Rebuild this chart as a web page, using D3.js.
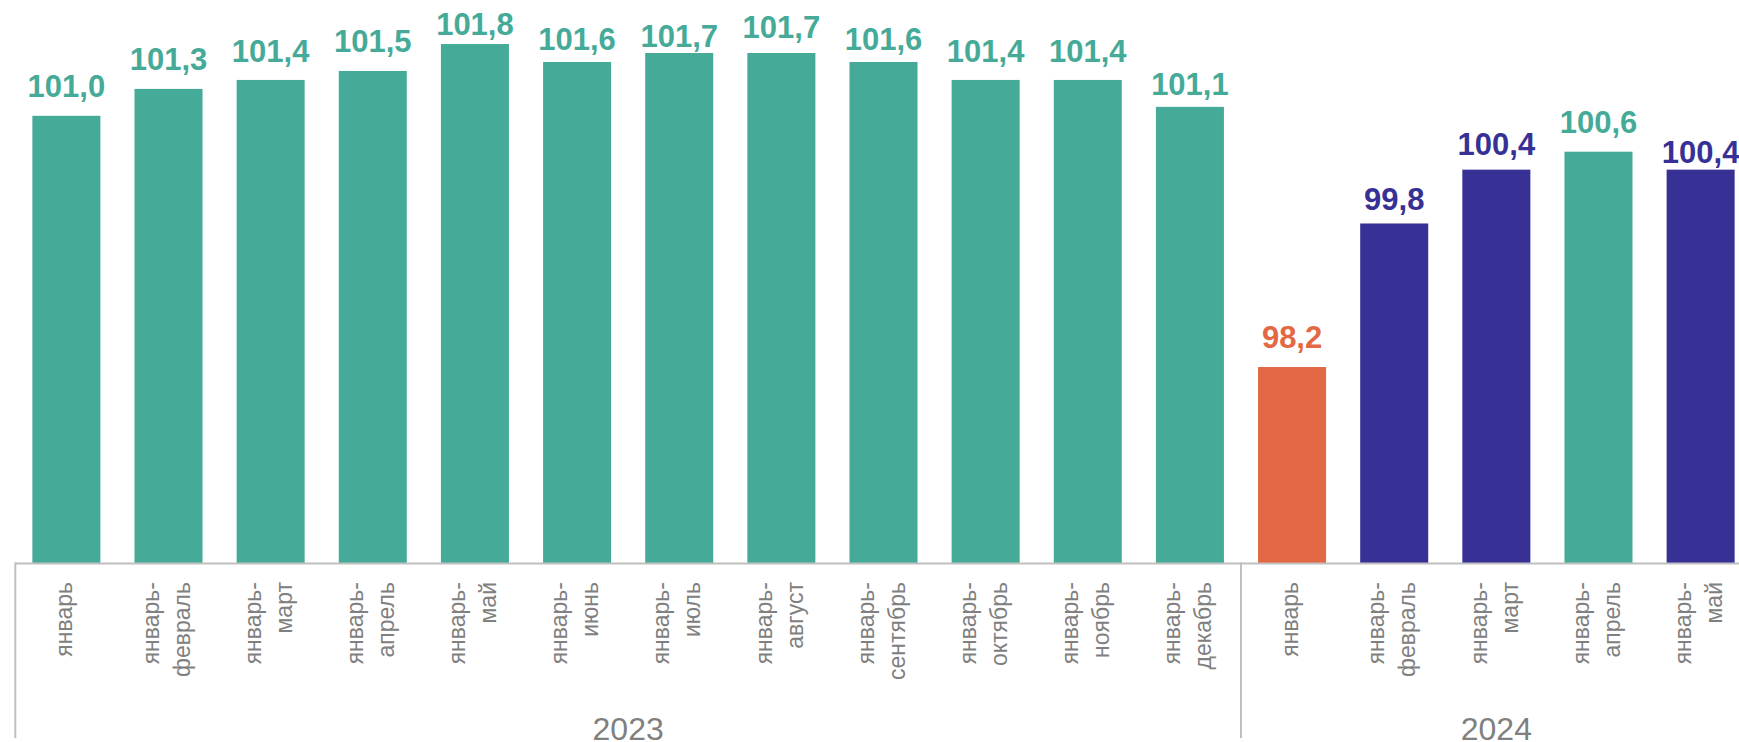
<!DOCTYPE html>
<html>
<head>
    <meta charset="utf-8">
    <script src="https://d3js.org/d3.v7.min.js"></script>
    <style>
        body { margin: 0; background: #fff; }
    </style>
</head>
<body>
    <div id="my_dataviz"></div>

    <script>

        // data
        var years = ["2023", "2023", "2023", "2023", "2023", "2023", "2023", "2023", "2023", "2023", "2023", "2023",
            "2024", "2024", "2024", "2024", "2024"];
        var periods = ["январь", "январь-\nфевраль", "январь-\nмарт", "январь-\nапрель", "январь-\nмай",
            "январь-\nиюнь", "январь-\nиюль", "январь-\nавгуст", "январь-\nсентябрь", "январь-\nоктябрь",
            "январь-\nноябрь", "январь-\nдекабрь",
            "январь", "январь-\nфевраль", "январь-\nмарт", "январь-\nапрель", "январь-\nмай"];
        var values = [101.0, 101.3, 101.4, 101.5, 101.8, 101.6, 101.7, 101.7, 101.6, 101.4, 101.4, 101.1,
            98.2, 99.8, 100.4, 100.6, 100.4];
        // which colour group each bar belongs to
        var kinds = ["base", "base", "base", "base", "base", "base", "base", "base", "base", "base", "base", "base",
            "low", "mid", "mid", "base", "mid"];
        var yearList = ["2023", "2024"];

        // value labels were placed by hand in the original, gap above the bar in px
        var labelGap = [19, 19, 18, 19, 9, 12, 6, 15, 12, 18, 18, 12, 19, 13, 15, 19, 7];

        var width = 1739, height = 742;

        var svg = d3.select("#my_dataviz")
            .append("svg")
            .attr("width", width)
            .attr("height", height)
            .style("font-family", "'Liberation Sans', Arial, sans-serif");

        var idx = d3.range(values.length);

        // X scale
        var x = d3.scaleBand()
            .domain(idx)
            .range([15.3, 1751.7])
            .paddingInner(0.334)
            .paddingOuter(0.167);

        // Y scale
        var y = d3.scaleLinear()
            .domain([96, 102])
            .range([564.4, 26.1]);

        var base = 563.5;

        var color = d3.scaleOrdinal()
            .domain(["base", "low", "mid"])
            .range(["#46aa98", "#e36844", "#373196"]);

        // bars
        svg.selectAll(".bar")
            .data(idx)
            .enter()
            .append("rect")
            .attr("class", "bar")
            .attr("x", function (i) { return x(i); })
            .attr("width", x.bandwidth())
            .attr("y", function (i) { return y(values[i]); })
            .attr("height", function (i) { return base - y(values[i]); })
            .attr("fill", function (i) { return color(kinds[i]); });

        // value labels
        var fmt = d3.format(".1f");
        svg.selectAll(".val")
            .data(idx)
            .enter()
            .append("text")
            .attr("class", "val")
            .attr("x", function (i) { return x(i) + x.bandwidth() / 2; })
            .attr("y", function (i) { return y(values[i]) - labelGap[i]; })
            .attr("text-anchor", "middle")
            .attr("font-size", 31)
            .attr("font-weight", "bold")
            .attr("fill", function (i) { return color(kinds[i]); })
            .text(function (i) { return fmt(values[i]).replace(".", ","); });

        // axis line
        var axisColor = "#bfbfbf";
        svg.append("line")
            .attr("x1", x.range()[0])
            .attr("x2", width)
            .attr("y1", base)
            .attr("y2", base)
            .attr("stroke", axisColor)
            .attr("stroke-width", 2);

        // group separators and year labels
        var step = x.step();
        yearList.forEach(function (yr) {
            var members = idx.filter(function (i) { return years[i] === yr; });
            var left = x(members[0]) - step * x.paddingInner() / 2;
            var right = x(members[members.length - 1]) + x.bandwidth() + step * x.paddingInner() / 2;
            svg.append("line")
                .attr("x1", left)
                .attr("x2", left)
                .attr("y1", base - 1)
                .attr("y2", 738)
                .attr("stroke", axisColor)
                .attr("stroke-width", 2);
            svg.append("text")
                .attr("x", (left + right) / 2)
                .attr("y", 739.5)
                .attr("text-anchor", "middle")
                .attr("font-size", 32)
                .attr("fill", "#808080")
                .text(yr);
        });

        // category labels, rotated
        var lineH = 31;
        var cat = svg.selectAll(".cat")
            .data(idx)
            .enter()
            .append("text")
            .attr("class", "cat")
            .attr("transform", function (i) {
                return "translate(" + (x(i) + x.bandwidth() / 2) + ",582) rotate(-90)";
            })
            .attr("text-anchor", "end")
            .attr("font-size", 23)
            .attr("fill", "#808080");

        cat.each(function (i) {
            var lines = periods[i].split("\n");
            var t = d3.select(this);
            lines.forEach(function (ln, k) {
                t.append("tspan")
                    .attr("x", 0)
                    .attr("y", 5.7 + (k - (lines.length - 1) / 2) * lineH)
                    .text(ln);
            });
        });

    </script>
</body>
</html>
